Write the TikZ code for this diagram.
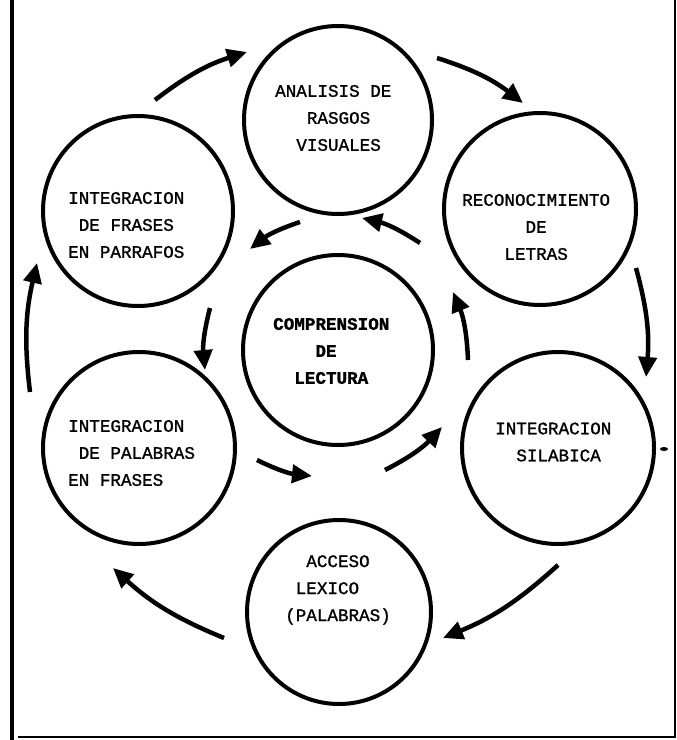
\documentclass[tikz,border=0pt]{standalone}
\usepackage{fontspec}
\newfontfamily\typer{Liberation Mono}[FakeBold=1.2]
\newfontfamily\typerheavy{Liberation Mono Bold}[FakeBold=1.2]
\usetikzlibrary{arrows.meta}
\begin{document}
\begin{tikzpicture}[x=1bp,y=-1bp,
  stage/.style={circle,draw,line width=4bp,inner sep=0pt,minimum size=#1},
  stagetext/.style={anchor=west,inner sep=0pt,align=left,
    font=\typer\fontsize{17.6bp}{27bp}\selectfont},
  flow/.style={line width=4.5bp,-{Triangle[length=20bp,width=18bp]}},
]
\useasboundingbox (0,0) rectangle (677,740);

% frame: heavy left rule, lighter right and bottom rules
\draw[line width=4bp] (12,0) -- (12,740);
\draw[line width=2bp] (675,0) -- (675,737) -- (18,737);

% the seven stages
\node[stage=188bp] (A) at (338,120) {};
\node[stage=192bp] (TR) at (540,209) {};
\node[stage=192bp] (R) at (558,448) {};
\node[stage=184bp] (B) at (339,612) {};
\node[stage=192bp] (LL) at (139,448) {};
\node[stage=190bp] (UL) at (138,211) {};
\node[stage=190bp] (C) at (338,350) {};

\node[stagetext] (tA) at (275,118) {ANALISIS DE\\\hphantom{AAA}RASGOS\\\hphantom{AA}VISUALES};
\node[stagetext] (tTR) at (462,227) {RECONOCIMIENTO\\\hphantom{AAAAAA}DE\\\hphantom{AAAA}LETRAS};
\node[stagetext] (tUL) at (68,225) {INTEGRACION\\\hphantom{A}DE FRASES\\EN PARRAFOS};
\node[stagetext] (tLL) at (68,453) {INTEGRACION\\\hphantom{A}DE PALABRAS\\EN FRASES};
\node[stagetext] (tR) at (495,442) {INTEGRACION\\\hphantom{AA}SILABICA};
\node[stagetext] (tB) at (285,590) {\hphantom{AA}ACCESO\\\hphantom{A}LEXICO\\(PALABRAS)};
\node[stagetext,font=\typerheavy\fontsize{17.6bp}{27bp}\selectfont] (tC) at (273,351)
  {COMPRENSION\\\hphantom{AAAA}DE\\\hphantom{AA}LECTURA};

% outer ring (clockwise)
\coordinate (o1s) at (155,100); \coordinate (o1e) at (247,52);
\coordinate (o2s) at (437,58);  \coordinate (o2e) at (523,103);
\coordinate (o3s) at (636,268); \coordinate (o3e) at (646,377);
\coordinate (o4s) at (558,565); \coordinate (o4e) at (443,638);
\coordinate (o5s) at (224,638); \coordinate (o5e) at (113,568);
\coordinate (o6s) at (30,392);  \coordinate (o6e) at (37,263);
\foreach \i in {1,...,6}
  \draw[flow] (o\i s) to[bend left=10] (o\i e);

% inner ring (counter-clockwise)
\coordinate (i1s) at (300,222); \coordinate (i1e) at (250,249);
\coordinate (i2s) at (210,308); \coordinate (i2e) at (205,370);
\coordinate (i3s) at (257,460); \coordinate (i3e) at (312,476);
\coordinate (i4s) at (385,470); \coordinate (i4e) at (442,427);
\coordinate (i5s) at (468,360); \coordinate (i5e) at (453,292);
\coordinate (i6s) at (420,243); \coordinate (i6e) at (362,218);
\foreach \i in {1,...,6}
  \draw[flow] (i\i s) to[bend right=10] (i\i e);

% small stray mark beside the right circle
\fill (664,449) ellipse (4bp and 2bp);
\end{tikzpicture}
\end{document}
